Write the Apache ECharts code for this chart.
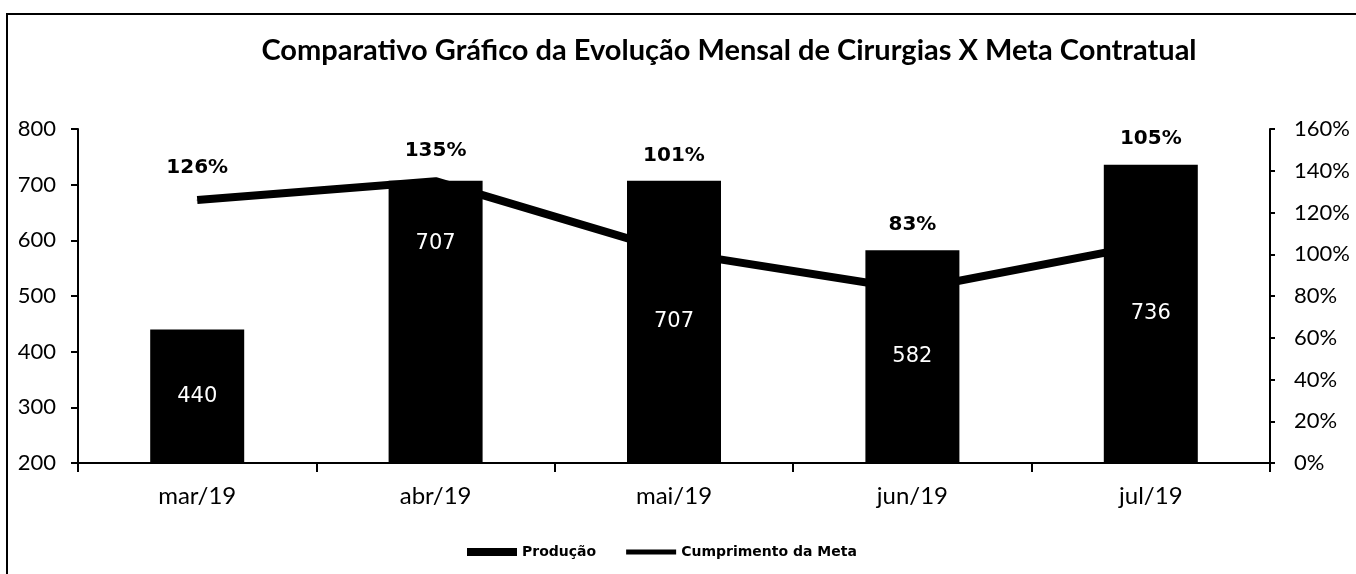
<!DOCTYPE html>
<html>
<head>
<meta charset="utf-8">
<script src="https://cdn.jsdelivr.net/npm/echarts@6/dist/echarts.min.js"></script>
<style>
  html, body { margin: 0; padding: 0; background: #fff; }
  #chart { width: 1356px; height: 574px; }
</style>
</head>
<body>
<div id="chart"></div>
<script>
const months = ['mar/19', 'abr/19', 'mai/19', 'jun/19', 'jul/19'];
const producao = [440, 707, 707, 582, 736];
const cumprimento = [126, 135, 101, 83, 105];
const leftTicks = [200, 800, 100];
const rightTicks = [0, 160, 20];

// label nudges so the % labels sit above the bars like in the original
const pctLabelShift = [-17, -15, -81, -49, -90];
const barLabelShift = [0, -78, 0, 0, 0];

const chart = echarts.init(document.getElementById('chart'));

const option = {
  backgroundColor: '#ffffff',
  animation: false,
  title: {
    text: 'Comparativo Gráfico da Evolução Mensal de Cirurgias X Meta Contratual',
    left: 724,
    top: 31,
    textAlign: 'center',
    textStyle: { fontFamily: 'Lato', fontWeight: 'bold', fontSize: 29, color: '#000' }
  },
  graphic: [{
    type: 'rect',
    shape: { x: 7, y: 14, width: 1400, height: 600 },
    style: { fill: 'none', stroke: '#000', lineWidth: 2 },
    silent: true
  }],
  legend: {
    left: 462,
    top: 540,
    itemGap: 30,
    itemWidth: 50,
    itemHeight: 8,
    textStyle: { fontFamily: 'DejaVu Sans', fontWeight: 'bold', fontSize: 14, color: '#000' },
    data: [
      { name: 'Produção', icon: 'rect' },
      { name: 'Cumprimento da Meta', icon: 'path://M0,0L50,0L50,5L0,5Z' }
    ]
  },
  grid: { left: 78, right: 86, top: 129, bottom: 111 },
  xAxis: {
    type: 'category',
    data: months,
    axisLine: { lineStyle: { color: '#000', width: 2 } },
    axisTick: { show: true, length: 9, lineStyle: { color: '#000', width: 2 } },
    axisLabel: { margin: 21, fontFamily: 'Lato', fontSize: 24, color: '#000' }
  },
  yAxis: [
    {
      type: 'value',
      min: leftTicks[0],
      max: leftTicks[1],
      interval: leftTicks[2],
      axisLine: { show: true, lineStyle: { color: '#000', width: 2 } },
      axisTick: { show: true, length: 7, lineStyle: { color: '#000', width: 2 } },
      axisLabel: { margin: 22, fontFamily: 'Lato', fontSize: 22, color: '#000' },
      splitLine: { show: false }
    },
    {
      type: 'value',
      position: 'right',
      min: rightTicks[0],
      max: rightTicks[1],
      interval: rightTicks[2],
      axisLine: { show: true, lineStyle: { color: '#000', width: 2 } },
      axisTick: { show: true, length: 5, lineStyle: { color: '#000', width: 2 } },
      axisLabel: { margin: 24, fontFamily: 'Lato', fontSize: 22, color: '#000', formatter: '{value}%' },
      splitLine: { show: false }
    }
  ],
  series: [
    {
      name: 'Cumprimento da Meta',
      type: 'line',
      yAxisIndex: 1,
      z: 1,
      symbol: 'circle',
      symbolSize: 1,
      showSymbol: true,
      data: cumprimento.map((v, i) => ({
        value: v,
        label: { offset: [0, pctLabelShift[i]] }
      })),
      itemStyle: { color: '#000' },
      lineStyle: { color: '#000', width: 8 },
      label: {
        show: true,
        position: 'top',
        formatter: '{c}%',
        fontFamily: 'DejaVu Sans',
        fontWeight: 'bold',
        fontSize: 20,
        color: '#000'
      }
    },
    {
      name: 'Produção',
      type: 'bar',
      z: 3,
      barWidth: 94,
      data: producao.map((v, i) => ({
        value: v,
        label: { offset: [0, barLabelShift[i]] }
      })),
      itemStyle: { color: '#000' },
      label: {
        show: true,
        position: 'inside',
        fontFamily: 'DejaVu Sans',
        fontSize: 21,
        color: '#fff'
      }
    }
  ]
};

chart.setOption(option);
</script>
</body>
</html>
